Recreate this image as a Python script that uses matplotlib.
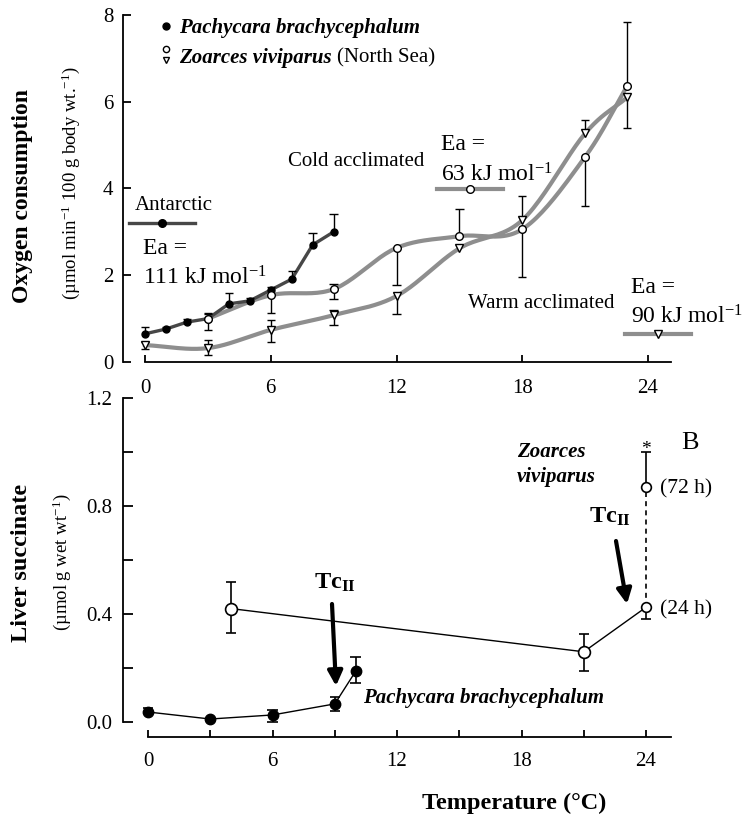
import numpy as np
import matplotlib
matplotlib.use('Agg')
import matplotlib.pyplot as plt
from matplotlib.lines import Line2D
from matplotlib.legend import Legend

plt.rcParams['font.family'] = 'Liberation Serif'
plt.rcParams['mathtext.fontset'] = 'custom'
plt.rcParams['mathtext.rm'] = 'Liberation Serif'
plt.rcParams['mathtext.default'] = 'regular'

W, H = 743, 817

# ---- top panel: oxygen consumption
pachy_temp = [0, 1, 2, 3, 4, 5, 6, 7, 8, 9]
pachy_mo2 = [0.65, 0.76, 0.92, 1.00, 1.34, 1.41, 1.66, 1.91, 2.70, 3.00]
pachy_hi = [0.16, 0.05, 0.07, 0.10, 0.26, 0.06, 0.07, 0.18, 0.28, 0.42]
pachy_lo = [0, 0, 0, 0, 0, 0, 0, 0, 0, 0]

cold_temp = [3, 6, 9, 12, 15, 18, 21, 23]
cold_mo2 = [1.00, 1.54, 1.68, 2.63, 2.90, 3.06, 4.73, 6.36]
cold_lo = [0.26, 0.42, 0.22, 0.86, 0.0, 1.10, 1.13, 0.0]
cold_hi = [0.12, 0.0, 0.12, 0.0, 0.62, 0.0, 0.0, 1.48]

warm_temp = [0, 3, 6, 9, 12, 15, 18, 21, 23]
warm_mo2 = [0.39, 0.32, 0.74, 1.08, 1.52, 2.62, 3.27, 5.27, 6.10]
warm_lo = [0.08, 0.15, 0.27, 0.23, 0.42, 0.0, 0.0, 0.0, 0.70]
warm_hi = [0.08, 0.18, 0.23, 0.12, 0.0, 0.0, 0.55, 0.30, 0.0]

# ---- bottom panel: liver succinate
pb_temp = [0, 3, 6, 9, 10]
pb_succ = [0.037, 0.011, 0.026, 0.067, 0.187]
pb_lo = [0.0, 0.0, 0.026, 0.027, 0.042]
pb_hi = [0.013, 0.0, 0.019, 0.026, 0.053]

zv_temp = [4, 21, 24]
zv_succ = [0.42, 0.26, 0.425]
zv_lo = [0.09, 0.07, 0.045]
zv_hi = [0.10, 0.065, 0.0]

zv72_temp = [24, 24]
zv72_succ = [0.425, 0.87]
zv72_hi = 0.13

DARK = '#474747'
GREY = '#8e8e8e'


def px(x, y):
    return x / W, 1 - y / H


def smooth(x, y, n=24):
    # catmull-rom through the measured points, just for drawing the curve
    p = np.column_stack([x, y]).astype(float)
    p = np.vstack([2 * p[0] - p[1], p, 2 * p[-1] - p[-2]])
    t = np.linspace(0, 1, n)[:, None]
    segs = []
    for i in range(1, len(p) - 2):
        p0, p1, p2, p3 = p[i - 1], p[i], p[i + 1], p[i + 2]
        seg = 0.5 * (2 * p1 + (-p0 + p2) * t + (2 * p0 - 5 * p1 + 4 * p2 - p3) * t ** 2
                     + (-p0 + 3 * p1 - 3 * p2 + p3) * t ** 3)
        segs.append(seg if i == 1 else seg[1:])
    c = np.vstack(segs)
    return c[:, 0], c[:, 1]


def errbars(ax, x, y, lo, hi, cap, lw=1.0):
    x, y = np.asarray(x, float), np.asarray(y, float)
    for err, sign in ((np.asarray(hi, float), 1), (np.asarray(lo, float), -1)):
        m = err > 0
        ends = y[m] + sign * err[m]
        ax.vlines(x[m], y[m], ends, color='k', lw=lw, zorder=3)
        ax.hlines(ends, x[m] - cap, x[m] + cap, color='k', lw=lw, zorder=3)


class StackedHandler:
    def legend_artist(self, legend, orig_handle, fontsize, handlebox):
        x0, y0 = handlebox.xdescent, handlebox.ydescent
        w, h = handlebox.width, handlebox.height
        arts = []
        for hd, yy in zip(orig_handle, (y0 + h * 1.0, y0 + h * 0.2)):
            a = Line2D([x0 + w / 2], [yy], marker=hd.get_marker(), ms=hd.get_markersize(),
                       mfc='white', mec='k', mew=1, ls='none', transform=handlebox.get_transform())
            handlebox.add_artist(a)
            arts.append(a)
        return arts[0]


fig = plt.figure(figsize=(W / 100, H / 100), dpi=100)

# ================= top panel
ax1 = fig.add_axes([123 / W, 1 - 362 / H, 577 / W, 352 / H])
ax1.set_xlim(-1.05, 26.48)
ax1.set_ylim(0, 8.115)
ax1.set_facecolor('none')

ax1.plot(*smooth(warm_temp, warm_mo2), color=GREY, lw=3, zorder=1)
ax1.plot(*smooth(cold_temp, cold_mo2), color=GREY, lw=3, zorder=1)
ax1.plot(pachy_temp, pachy_mo2, color=DARK, lw=2.4, zorder=2)

errbars(ax1, pachy_temp, pachy_mo2, pachy_lo, pachy_hi, 0.2)
errbars(ax1, cold_temp, cold_mo2, cold_lo, cold_hi, 0.2)
errbars(ax1, warm_temp, warm_mo2, warm_lo, warm_hi, 0.2)

ax1.plot(pachy_temp, pachy_mo2, 'o', ms=5, color='k', ls='none', zorder=4)
ax1.plot(cold_temp, cold_mo2, 'o', ms=5.5, mfc='white', mec='k', mew=1, ls='none', zorder=4)
ax1.plot(warm_temp, warm_mo2, 'v', ms=6, mfc='white', mec='k', mew=1, ls='none', zorder=4)

for s in ('top', 'right'):
    ax1.spines[s].set_visible(False)
ax1.spines['left'].set_bounds(0, 8)
ax1.spines['bottom'].set_bounds(0, 25.1)
for s in ('left', 'bottom'):
    ax1.spines[s].set_linewidth(1.3)
ax1.set_xticks([0, 6, 12, 18, 24])
ax1.set_yticks([0, 2, 4, 6, 8])
ax1.tick_params(direction='in', width=1.3, labelsize=15)
ax1.tick_params(axis='x', length=5, pad=12)
ax1.tick_params(axis='y', length=6, pad=7)

# species legend
h_pb = Line2D([], [], marker='o', ms=5, color='k', ls='none')
h_zv = (Line2D([], [], marker='o', ms=4.5), Line2D([], [], marker='v', ms=5))
leg = Legend(ax1, [h_pb, h_zv], ['Pachycara brachycephalum', 'Zoarces viviparus'],
             handler_map={tuple: StackedHandler()}, loc='upper left',
             bbox_to_anchor=px(160, 18), bbox_transform=fig.transFigure, frameon=False,
             prop=dict(weight='bold', style='italic', size=15), handlelength=0.55,
             handletextpad=0.35, labelspacing=0.5, borderpad=0, borderaxespad=0)
ax1.add_artist(leg)
fig.text(*px(337, 58), '(North Sea)', fontsize=15, va='center')

# acclimation keys
keys = [(DARK, 2.4, 'o', 'k', (162, 225)),
        (GREY, 3, 'o', 'white', (470, 191)),
        (GREY, 3, 'v', 'white', (658, 336))]
for col, lw, mk, mfc, pos in keys:
    h = Line2D([], [], color=col, lw=lw, marker=mk, ms=5.5, mfc=mfc, mec='k', mew=1)
    lg = Legend(ax1, [h], [''], loc='center', bbox_to_anchor=px(*pos),
                bbox_transform=fig.transFigure, frameon=False, handlelength=3.35,
                handletextpad=0, borderpad=0, borderaxespad=0, numpoints=1, fontsize=14)
    ax1.add_artist(lg)

fig.text(*px(135, 205), 'Antarctic', fontsize=15, va='center')
fig.text(*px(143, 249), 'Ea =', fontsize=17, va='center')
fig.text(*px(143, 278), '111 kJ mol$^{-1}$', fontsize=17, va='center')
fig.text(*px(288, 162), 'Cold acclimated', fontsize=15, va='center')
fig.text(*px(441, 145), 'Ea =', fontsize=17, va='center')
fig.text(*px(441, 175), '63 kJ mol$^{-1}$', fontsize=17, va='center')
fig.text(*px(468, 304), 'Warm acclimated', fontsize=15, va='center')
fig.text(*px(631, 287), 'Ea =', fontsize=17, va='center')
fig.text(*px(631, 317), '90 kJ mol$^{-1}$', fontsize=17, va='center')

fig.text(*px(23, 196), 'Oxygen consumption', fontsize=17, weight='bold',
         rotation=90, ha='center', va='center')
fig.text(*px(71, 183), '(µmol min$^{-1}$ 100 g body wt.$^{-1}$)', fontsize=13.5,
         rotation=90, ha='center', va='center')

# ================= bottom panel
ax2 = fig.add_axes([123 / W, 1 - 737 / H, 577 / W, 347 / H])
ax2.set_xlim(-1.205, 26.6)
ax2.set_ylim(-0.0556, 1.2296)
ax2.set_facecolor('none')

ax2.plot(pb_temp, pb_succ, color='k', lw=1, zorder=2)
ax2.plot(zv_temp, zv_succ, color='k', lw=1, zorder=2)
ax2.plot(zv72_temp, zv72_succ, color='k', lw=1.2, ls=(0, (3, 2.5)), zorder=2)

errbars(ax2, pb_temp, pb_succ, pb_lo, pb_hi, 0.25, lw=1.2)
errbars(ax2, zv_temp, zv_succ, zv_lo, zv_hi, 0.25, lw=1.2)
errbars(ax2, zv72_temp[1:], zv72_succ[1:], [0], [zv72_hi], 0.25, lw=1.2)

ax2.plot(pb_temp, pb_succ, 'o', ms=7.5, color='k', ls='none', zorder=4)
ax2.plot(zv_temp[:2], zv_succ[:2], 'o', ms=8.5, mfc='white', mec='k', mew=1.2, ls='none', zorder=4)
ax2.plot(zv72_temp, zv72_succ, 'o', ms=7, mfc='white', mec='k', mew=1.2, ls='none', zorder=4)

for s in ('top', 'right'):
    ax2.spines[s].set_visible(False)
ax2.spines['left'].set_bounds(0, 1.2)
ax2.spines['bottom'].set_bounds(0, 25.2)
for s in ('left', 'bottom'):
    ax2.spines[s].set_linewidth(1.3)
ax2.set_xticks([0, 6, 12, 18, 24])
ax2.set_xticks([3, 9, 15, 21], minor=True)
ax2.set_yticks([0, 0.4, 0.8, 1.2])
ax2.set_yticks([0.2, 0.6, 1.0], minor=True)
ax2.set_yticklabels(['0.0', '0.4', '0.8', '1.2'])
ax2.tick_params(which='both', direction='in', width=1.3, labelsize=15)
ax2.tick_params(axis='x', which='both', length=5, pad=11)
ax2.tick_params(axis='y', which='both', length=7, pad=8)

fig.text(*px(690, 443), 'B', fontsize=19, ha='center', va='center')
fig.text(*px(517, 452), 'Zoarces', fontsize=15, weight='bold', style='italic', va='center')
fig.text(*px(517, 477), 'viviparus', fontsize=15, weight='bold', style='italic', va='center')
fig.text(*px(660, 489), '(72 h)', fontsize=15.5, va='center')
fig.text(*px(660, 610), '(24 h)', fontsize=15.5, va='center')
fig.text(*px(646, 449), '*', fontsize=14, ha='center', va='center')
fig.text(*px(363, 698), 'Pachycara brachycephalum', fontsize=15, weight='bold',
         style='italic', va='center')
fig.text(*px(610, 517), 'Tc$_{II}$', fontsize=17.5, weight='bold', ha='center', va='center')
fig.text(*px(335, 583), 'Tc$_{II}$', fontsize=17.5, weight='bold', ha='center', va='center')

arrow = dict(arrowstyle='-|>', lw=3, color='k', mutation_scale=22, shrinkA=0, shrinkB=0)
ax2.annotate('', xy=(627, H - 604), xytext=(616, H - 541), xycoords='figure pixels',
             textcoords='figure pixels', arrowprops=arrow)
ax2.annotate('', xy=(336, H - 686), xytext=(332, H - 604), xycoords='figure pixels',
             textcoords='figure pixels', arrowprops=arrow)

fig.text(*px(22, 563), 'Liver succinate', fontsize=17.5, weight='bold',
         rotation=90, ha='center', va='center')
fig.text(*px(62, 562), '(µmol g wet wt$^{-1}$)', fontsize=13.5,
         rotation=90, ha='center', va='center')
fig.text(*px(514, 803), 'Temperature (°C)', fontsize=17.5, weight='bold',
         ha='center', va='center')

fig.savefig('out.png', dpi=100)
